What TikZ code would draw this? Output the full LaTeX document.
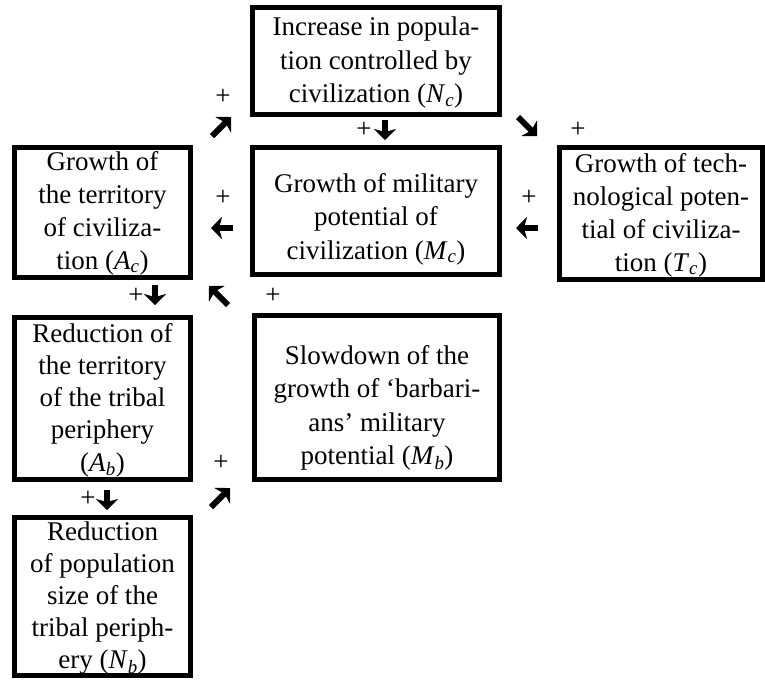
\documentclass[tikz,border=0pt]{standalone}
\usepackage{fontspec}
\setmainfont{Liberation Serif}
\usetikzlibrary{arrows.meta}
\begin{document}
\begin{tikzpicture}[x=1pt,y=-1pt,
  box/.style={draw, line width=5pt, inner sep=0pt},
  txt/.style={align=center, font=\fontsize{27}{33.5}\selectfont, inner sep=0pt},
  txtm/.style={align=center, font=\fontsize{27}{33}\selectfont, inner sep=0pt},
  txtb/.style={align=center, font=\fontsize{27}{32.3}\selectfont, inner sep=0pt},
  plus/.style={font=\fontsize{27}{33}\selectfont, inner sep=0pt},
  glyph/.style={line width=6pt, -{Stealth[length=11pt,width=22pt,inset=3pt]}}
]
\useasboundingbox (0,0) rectangle (765,681);

% boxes
\node[box, minimum width=247pt, minimum height=107pt] (Nc) at (376,61) {};
\node[txt] (Nct) at (376,63) {Increase in popula-\\tion controlled by\\civilization (\textit{N}\textsubscript{\textit{c}})};

\node[box, minimum width=247pt, minimum height=127pt] (Mc) at (376,211) {};
\node[txt] (Mct) at (376,219) {Growth of military\\potential of\\civilization (\textit{M}\textsubscript{\textit{c}})};

\node[box, minimum width=176pt, minimum height=130pt] (Ac) at (102.5,212.5) {};
\node[txtm] (Act) at (102.5,213) {Growth of\\the territory\\of civiliza-\\tion (\textit{A}\textsubscript{\textit{c}})};

\node[box, minimum width=203pt, minimum height=132pt] (Tc) at (661,213.5) {};
\node[txtm] (Tct) at (661,215) {Growth of tech-\\nological poten-\\tial of civiliza-\\tion (\textit{T}\textsubscript{\textit{c}})};

\node[box, minimum width=176pt, minimum height=162pt] (Ab) at (102.5,398.5) {};
\node[txtb] (Abt) at (102.5,400) {Reduction of\\the territory\\of the tribal\\periphery\\(\textit{A}\textsubscript{\textit{b}})};

\node[box, minimum width=245pt, minimum height=164pt] (Mb) at (377,397.5) {};
\node[txt] (Mbt) at (377,408) {Slowdown of the\\growth of ‘barbari-\\ans’ military\\potential (\textit{M}\textsubscript{\textit{b}})};

\node[box, minimum width=176pt, minimum height=158pt] (Nb) at (102.5,596.5) {};
\node[txtb, font=\fontsize{27}{32}\selectfont] (Nbt) at (102.5,598.5) {Reduction\\of population\\size of the\\tribal periph-\\ery (\textit{N}\textsubscript{\textit{b}})};

% arrow glyphs
\coordinate (g1s) at (212,136); \coordinate (g1e) at (231,117);
\coordinate (g2s) at (385,120); \coordinate (g2e) at (385,140);
\coordinate (g3s) at (518,117); \coordinate (g3e) at (537,136);
\coordinate (g4s) at (233,228); \coordinate (g4e) at (211,228);
\coordinate (g5s) at (538,228); \coordinate (g5e) at (516,228);
\coordinate (g6s) at (155,285); \coordinate (g6e) at (155,305);
\coordinate (g7s) at (228,305); \coordinate (g7e) at (209,286);
\coordinate (g8s) at (107,490); \coordinate (g8e) at (107,510);
\coordinate (g9s) at (211,507); \coordinate (g9e) at (230,488);
\foreach \i in {1,...,9} \draw[glyph] (g\i s) -- (g\i e);

% plus signs
\node[plus] (p1) at (223,97) {+};
\node[plus] (p2) at (364,130) {+};
\node[plus] (p3) at (578,130) {+};
\node[plus] (p4) at (223,198) {+};
\node[plus] (p5) at (529,198) {+};
\node[plus] (p6) at (136,296) {+};
\node[plus] (p7) at (273,296) {+};
\node[plus] (p8) at (88,499) {+};
\node[plus] (p9) at (221,463) {+};
\end{tikzpicture}
\end{document}
